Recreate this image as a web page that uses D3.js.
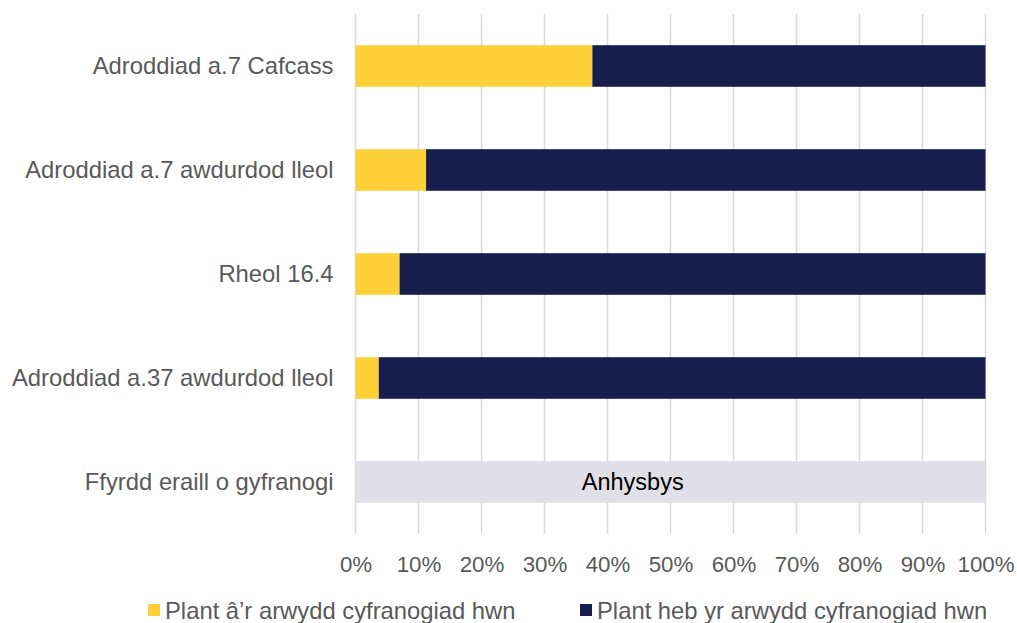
<!DOCTYPE html>
<html>
<head>
<meta charset="utf-8">
<script src="https://cdn.jsdelivr.net/npm/d3@7"></script>
<style>
  body { margin: 0; background: #fff; }
  svg { display: block; font-family: "Liberation Sans", Arial, sans-serif; }
</style>
</head>
<body>
<svg id="chart" width="1017" height="623"></svg>
<script>
const categories = [
  "Adroddiad a.7 Cafcass",
  "Adroddiad a.7 awdurdod lleol",
  "Rheol 16.4",
  "Adroddiad a.37 awdurdod lleol",
  "Ffyrdd eraill o gyfranogi"
];
// share with the indicator (null = unknown)
const withSign = [0.376, 0.112, 0.07, 0.037, null];
const withoutSign = [0.624, 0.888, 0.93, 0.963, null];
const unknownLabel = "Anhysbys";
const xTicks = [0, 0.1, 0.2, 0.3, 0.4, 0.5, 0.6, 0.7, 0.8, 0.9, 1];
const seriesNames = ["Plant â’r arwydd cyfranogiad hwn", "Plant heb yr arwydd cyfranogiad hwn"];
const seriesColors = ["#FDD037", "#171E4E"];

const svg = d3.select("#chart");
const margin = { left: 355.5, right: 31.5, top: 14, bottom: 89 };
const width = 1017, height = 623;

const x = d3.scaleLinear().domain([0, 1]).range([margin.left, width - margin.right]);
const y = d3.scaleBand().domain(categories)
  .range([margin.top, height - margin.bottom])
  .paddingInner(0.6).paddingOuter(0.3);

// gridlines
svg.append("g").selectAll("line").data(xTicks).join("line")
  .attr("x1", d => x(d)).attr("x2", d => x(d))
  .attr("y1", margin.top).attr("y2", height - margin.bottom)
  .attr("stroke", "#D9D9D9").attr("stroke-width", 1.5);

const rows = categories.map((c, i) => ({ c, a: withSign[i], b: withoutSign[i] }));

const bars = svg.append("g");
rows.forEach(r => {
  if (r.a == null) {
    bars.append("rect")
      .attr("x", x(0)).attr("width", x(1) - x(0))
      .attr("y", y(r.c)).attr("height", y.bandwidth())
      .attr("fill", "#E0DFE8");
    bars.append("text")
      .attr("x", x(0.44)).attr("y", y(r.c) + y.bandwidth() / 2)
      .attr("dy", "0.35em").attr("text-anchor", "middle")
      .attr("font-size", 23.5).attr("fill", "#000")
      .text(unknownLabel);
    return;
  }
  bars.append("rect")
    .attr("x", x(0)).attr("width", x(r.a) - x(0))
    .attr("y", y(r.c)).attr("height", y.bandwidth())
    .attr("fill", seriesColors[0]);
  bars.append("rect")
    .attr("x", x(r.a)).attr("width", x(r.a + r.b) - x(r.a))
    .attr("y", y(r.c)).attr("height", y.bandwidth())
    .attr("fill", seriesColors[1]);
});

// category labels
const yAxis = svg.append("g")
  .attr("transform", `translate(${margin.left},0)`)
  .call(d3.axisLeft(y).tickSize(0).tickPadding(22));
yAxis.select(".domain").remove();
yAxis.selectAll("text")
  .attr("font-size", 23.8).attr("fill", "#595959")
  .attr("font-family", "Liberation Sans, Arial, sans-serif");

// x tick labels
const xAxis = svg.append("g")
  .attr("transform", `translate(0,${height - margin.bottom})`)
  .call(d3.axisBottom(x).tickValues(xTicks).tickFormat(d3.format(".0%")).tickSize(0).tickPadding(22));
xAxis.select(".domain").remove();
xAxis.selectAll("text")
  .attr("font-size", 22.3).attr("fill", "#595959")
  .attr("font-family", "Liberation Sans, Arial, sans-serif");

// legend
const legendX = [148, 580];
const legend = svg.append("g");
seriesNames.forEach((name, i) => {
  legend.append("rect")
    .attr("x", legendX[i]).attr("y", 604)
    .attr("width", 12).attr("height", 12)
    .attr("fill", seriesColors[i]);
  legend.append("text")
    .attr("x", legendX[i] + 17).attr("y", 611)
    .attr("dy", "0.35em")
    .attr("font-size", 23.8).attr("fill", "#595959")
    .text(name);
});
</script>
</body>
</html>
